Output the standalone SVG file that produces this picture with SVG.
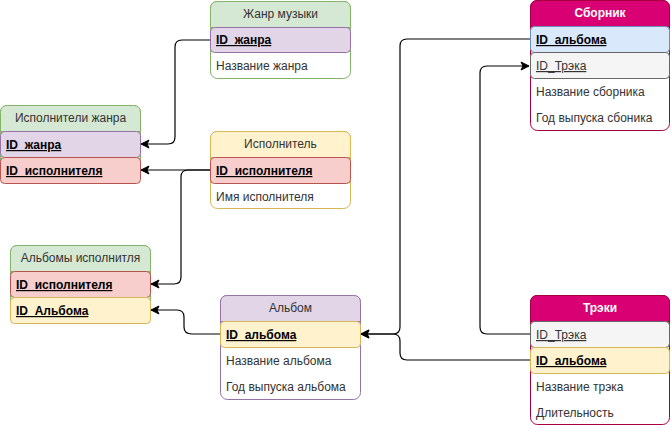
<svg xmlns="http://www.w3.org/2000/svg" width="671" height="429" viewBox="0 0 671 429">
<defs>
<marker id="arr" markerUnits="userSpaceOnUse" markerWidth="10" markerHeight="10" refX="9" refY="5" orient="auto">
<path d="M1,1 L9,5 L1,9 L3,5 Z" fill="#000" stroke="#000" stroke-width="1"/>
</marker>
</defs>
<style>
text{font-family:"Liberation Sans",Arial,sans-serif;font-size:12px;fill:#333333}
.h{text-anchor:middle}
.hw{text-anchor:middle;fill:#ffffff;font-weight:bold}
.k{font-weight:bold;text-decoration:underline;fill:#000}
.u{text-decoration:underline;fill:#333333}
.c{fill:none;stroke:#000;stroke-width:1.2;marker-end:url(#arr)}
.g{fill:#d5e8d4;stroke:#82b366}
.p{fill:#e1d5e7;stroke:#9673a6}
.r{fill:#f8cecc;stroke:#b85450}
.y{fill:#fff2cc;stroke:#d6b656}
.b{fill:#dae8fc;stroke:#6c8ebf}
.gr{fill:#f5f5f5;stroke:#666666}
.m{fill:#d80073;stroke:#a50040}
</style>
<g id="connectors">
<path class="c" d="M210,40 L182,40 Q175,40 175,47 L175,137 Q175,144 168,144 L141,144"/>
<path class="c" d="M210,170 L141,170"/>
<path class="c" d="M210,170 L188,170 Q181,170 181,177 L181,277 Q181,284 174,284 L151,284"/>
<path class="c" d="M220,334 L192,334 Q184,334 184,327 L184,317 Q184,310 177,310 L151,310"/>
<path class="c" d="M530,39 L407,39 Q400,39 400,46 L400,327 Q400,334 393,334 L361,334"/>
<path class="c" d="M530,360 L407,360 Q400,360 400,353 L400,341 Q400,334 393,334 L361,334"/>
<path class="c" d="M530,334 L487,334 Q480,334 480,327 L480,73 Q480,66 487,66 L529,66"/>
</g>
<g id="genre">
<rect x="210.5" y="1.5" width="140" height="77" rx="7" fill="#fff" stroke="#82b366"/>
<path class="g" d="M210.5,27.5 L210.5,8.5 Q210.5,1.5 217.5,1.5 L343.5,1.5 Q350.5,1.5 350.5,8.5 L350.5,27.5 Z"/>
<rect class="p" x="210.5" y="27.5" width="140" height="25" rx="4"/>
<text class="h" x="280.5" y="18">Жанр музыки</text>
<text class="k" x="216" y="44">ID_жанра</text>
<text x="216" y="70">Название жанра</text>
</g>
<g id="artist-genre">
<rect x="0.5" y="105.5" width="140" height="78" rx="7" fill="#fff" stroke="#82b366"/>
<path class="g" d="M0.5,131.5 L0.5,112.5 Q0.5,105.5 7.5,105.5 L133.5,105.5 Q140.5,105.5 140.5,112.5 L140.5,131.5 Z"/>
<rect class="p" x="0.5" y="131.5" width="140" height="26" rx="4"/>
<rect class="r" x="0.5" y="157.5" width="140" height="26" rx="4"/>
<text class="h" x="70.5" y="122">Исполнители жанра</text>
<text class="k" x="6" y="149">ID_жанра</text>
<text class="k" x="6" y="175">ID_исполнителя</text>
</g>
<g id="artist">
<rect x="210.5" y="131.5" width="140" height="77" rx="7" fill="#fff" stroke="#d6b656"/>
<path class="y" d="M210.5,157.5 L210.5,138.5 Q210.5,131.5 217.5,131.5 L343.5,131.5 Q350.5,131.5 350.5,138.5 L350.5,157.5 Z"/>
<rect class="r" x="210.5" y="157.5" width="140" height="26" rx="4"/>
<text class="h" x="280.5" y="148">Исполнитель</text>
<text class="k" x="216" y="175">ID_исполнителя</text>
<text x="216" y="201">Имя исполнителя</text>
</g>
<g id="artist-albums">
<rect x="10.5" y="245.5" width="140" height="78" rx="7" fill="#fff" stroke="#82b366"/>
<path class="g" d="M10.5,271.5 L10.5,252.5 Q10.5,245.5 17.5,245.5 L143.5,245.5 Q150.5,245.5 150.5,252.5 L150.5,271.5 Z"/>
<rect class="r" x="10.5" y="271.5" width="140" height="26" rx="4"/>
<rect class="y" x="10.5" y="297.5" width="140" height="26" rx="4"/>
<text class="h" x="80.5" y="262">Альбомы исполнитля</text>
<text class="k" x="16" y="289">ID_исполнителя</text>
<text class="k" x="16" y="315">ID_Альбома</text>
</g>
<g id="album">
<rect x="220.5" y="295.5" width="140" height="104" rx="7" fill="#fff" stroke="#9673a6"/>
<path class="p" d="M220.5,321.5 L220.5,302.5 Q220.5,295.5 227.5,295.5 L353.5,295.5 Q360.5,295.5 360.5,302.5 L360.5,321.5 Z"/>
<rect class="y" x="220.5" y="321.5" width="140" height="26" rx="4"/>
<text class="h" x="290.5" y="312">Альбом</text>
<text class="k" x="226" y="339">ID_альбома</text>
<text x="226" y="365">Название альбома</text>
<text x="226" y="391">Год выпуска альбома</text>
</g>
<g id="compilation">
<rect x="530.5" y="0.5" width="139" height="130" rx="7" fill="#fff" stroke="#a50040"/>
<path class="m" d="M530.5,26.5 L530.5,7.5 Q530.5,0.5 537.5,0.5 L662.5,0.5 Q669.5,0.5 669.5,7.5 L669.5,26.5 Z"/>
<rect class="b" x="530.5" y="26.5" width="139" height="26" rx="4"/>
<rect class="gr" x="530.5" y="52.5" width="139" height="26" rx="4"/>
<text class="hw" x="600" y="17">Сборник</text>
<text class="k" x="536" y="44">ID_альбома</text>
<text class="u" x="536" y="70">ID_Трэка</text>
<text x="536" y="96">Название сборника</text>
<text x="536" y="122">Год выпуска сбоника</text>
</g>
<g id="tracks">
<rect x="530.5" y="295.5" width="139" height="129" rx="7" fill="#fff" stroke="#a50040"/>
<path class="m" d="M530.5,321.5 L530.5,302.5 Q530.5,295.5 537.5,295.5 L662.5,295.5 Q669.5,295.5 669.5,302.5 L669.5,321.5 Z"/>
<rect class="gr" x="530.5" y="321.5" width="139" height="26" rx="4"/>
<rect class="y" x="530.5" y="347.5" width="139" height="26" rx="4"/>
<text class="hw" x="600" y="312">Трэки</text>
<text class="u" x="536" y="339">ID_Трэка</text>
<text class="k" x="536" y="365">ID_альбома</text>
<text x="536" y="391">Название трэка</text>
<text x="536" y="417">Длительность</text>
</g>
</svg>
